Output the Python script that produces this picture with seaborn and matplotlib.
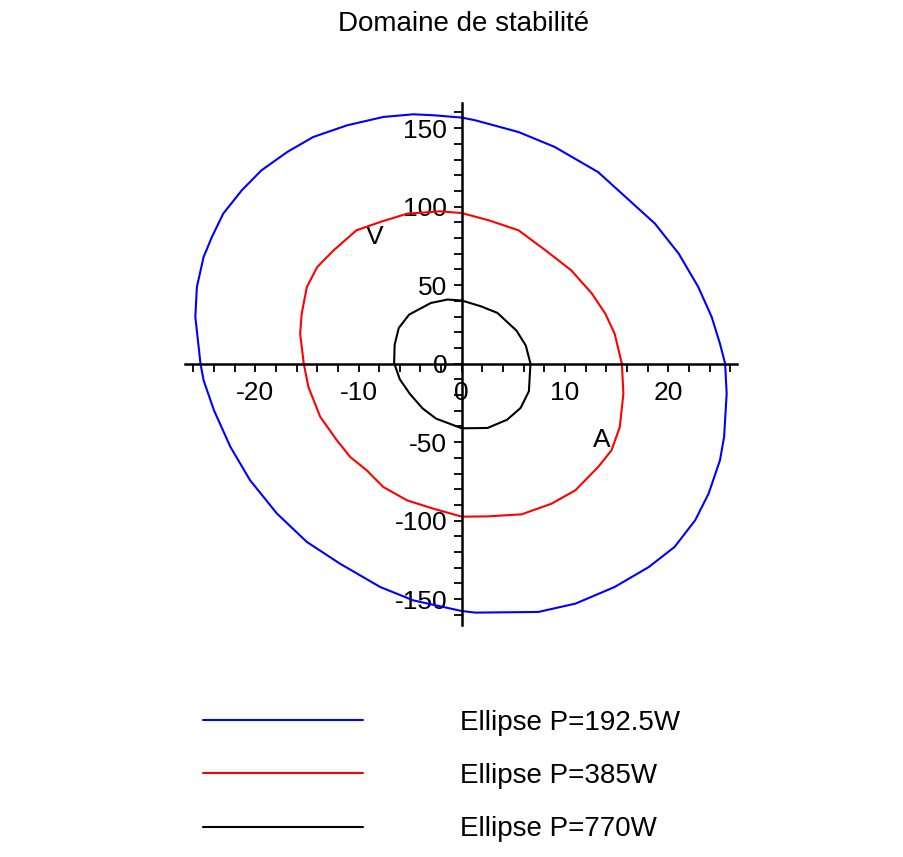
import matplotlib
matplotlib.use("Agg")
import matplotlib.pyplot as plt
import seaborn as sns
import pandas as pd
from matplotlib.ticker import MultipleLocator

# Stability domain boundaries: amplitude A (horizontal) vs V (vertical)
labels = ["Ellipse P=192.5W", "Ellipse P=385W", "Ellipse P=770W"]
colors = ["#0000ff", "#ff0000", "#000000"]

blue_A = [0.0, 1.3, 5.5, 9.0, 13.2, 15.5, 18.7, 21.0, 22.9, 24.2, 25.0, 25.5,
          25.65, 25.4, 25.0, 23.9, 22.6, 20.6, 18.1, 14.8, 11.0, 7.4, 1.3, 0.0,
          -1.8, -4.7, -7.9, -11.8, -15.0, -17.9, -20.5, -22.4, -24.0, -25.0, -25.3,
          -25.8, -25.65, -25.0, -24.2, -23.1, -21.3, -19.4, -16.9, -14.4, -11.1,
          -7.6, -4.7, -2.75, 0.0]
blue_V = [156.7, 155.0, 147.5, 138.0, 122.0, 108.3, 89.2, 70.1, 48.8, 29.7, 12.7, 0.0,
          -19.1, -46.7, -61.6, -82.8, -99.8, -116.8, -129.6, -142.3, -152.9, -158.2, -158.6, -157.6,
          -155.0, -150.8, -142.3, -127.4, -113.6, -95.5, -74.3, -53.1, -29.7, -10.6, 0.0,
          29.7, 48.8, 67.9, 80.6, 95.5, 110.4, 123.1, 134.8, 144.3, 151.8,
          157.1, 158.8, 158.2, 156.7]

red_A = [0.0, 2.6, 5.5, 8.1, 10.6, 12.6, 13.9, 14.8, 15.5,
         15.65, 15.3, 14.5, 13.2, 11.0, 8.7, 5.8, 2.6, 0.0,
         -2.75, -5.3, -7.6, -9.2, -10.8, -12.1, -13.7, -14.85, -15.3,
         -15.65, -15.5, -15.0, -14.0, -12.4, -10.2, -7.9, -5.3, -2.1, 0.0]
red_V = [95.9, 91.3, 84.9, 72.2, 59.4, 44.6, 31.8, 19.1, 0.0,
         -19.1, -40.4, -55.2, -65.9, -80.7, -89.2, -96.0, -97.3, -97.5,
         -92.4, -87.1, -78.6, -68.0, -59.5, -48.8, -34.0, -14.9, 0.0,
         19.1, 31.8, 48.8, 61.5, 72.2, 84.9, 90.2, 95.5, 97.0, 95.9]

black_A = [0.0, 1.85, 3.45, 5.3, 6.2, 6.65, 6.5, 5.7, 4.4, 2.5, 0.0,
           -2.5, -3.8, -5.0, -6.0, -6.55, -6.5, -6.1, -5.1, -3.0, -1.4, 0.0]
black_V = [40.2, 36.5, 32.3, 21.0, 11.5, 0.0, -17.6, -28.2, -35.7, -41.0, -41.2,
           -35.0, -28.5, -19.5, -10.0, 0.4, 12.1, 22.7, 31.2, 38.6, 40.8, 40.2]

x_major = [-20, -10, 0, 10, 20]
y_major = [-150, -100, -50, 0, 50, 100, 150]

frames = []
for lab, a, v in zip(labels, [blue_A, red_A, black_A], [blue_V, red_V, black_V]):
    frames.append(pd.DataFrame({"A": a, "V": v, "courbe": lab}))
df = pd.concat(frames, ignore_index=True)

sns.set_theme(style="white")
plt.rcParams["font.family"] = ["Liberation Sans", "DejaVu Sans"]
plt.rcParams["axes.unicode_minus"] = False

W, H = 904, 857
fig = plt.figure(figsize=(W / 100, H / 100), dpi=100)
ax_left, ax_right, ax_top, ax_bot = 185, 737, 103, 625
ax = fig.add_axes([ax_left / W, 1 - ax_bot / H, (ax_right - ax_left) / W, (ax_bot - ax_top) / H])

sns.lineplot(data=df, x="A", y="V", hue="courbe", hue_order=labels,
             palette=colors, sort=False, estimator=None, linewidth=1.5, ax=ax)

ax.set_xlim(-26.8, 26.65)
ax.set_ylim(-166.5, 166.0)

for side in ["top", "right"]:
    ax.spines[side].set_visible(False)
for side in ["left", "bottom"]:
    ax.spines[side].set_position(("data", 0))
    ax.spines[side].set_color("black")
    ax.spines[side].set_linewidth(1.8)

ax.set_xticks(x_major)
ax.set_yticks(y_major)
ax.xaxis.set_minor_locator(MultipleLocator(2))
ax.yaxis.set_minor_locator(MultipleLocator(10))
ax.tick_params(which="both", direction="out", length=6, width=1.3, color="black")
ax.tick_params(axis="x", which="major", labelsize=19, pad=6.5, labelcolor="black")
ax.tick_params(axis="y", which="major", labelsize=19, pad=4.5, labelcolor="black")
ax.tick_params(which="both", bottom=True, left=True)

ax.set_xlabel("A", fontsize=19, color="black")
ax.set_ylabel("V", fontsize=19, color="black", rotation=0, ha="center", va="center")
ax.xaxis.set_label_coords((602 - ax_left) / (ax_right - ax_left), (ax_bot - 440) / (ax_bot - ax_top))
ax.yaxis.set_label_coords((375 - ax_left) / (ax_right - ax_left), (ax_bot - 237) / (ax_bot - ax_top))
ax.xaxis.label.set_va("center")

fig.text(464 / W, 1 - 24 / H, "Domaine de stabilité", ha="center", va="center",
         fontsize=20, color="black")

handles, lbls = ax.get_legend_handles_labels()
ax.get_legend().remove()
fig.legend(handles, lbls, loc="center left", bbox_to_anchor=(203 / W, 1 - 776 / H),
           frameon=False, fontsize=20, handlelength=5.75, handletextpad=3.5,
           labelspacing=0.98, borderpad=0, borderaxespad=0, labelcolor="black")

fig.savefig("out.png", dpi=100, facecolor="white")
